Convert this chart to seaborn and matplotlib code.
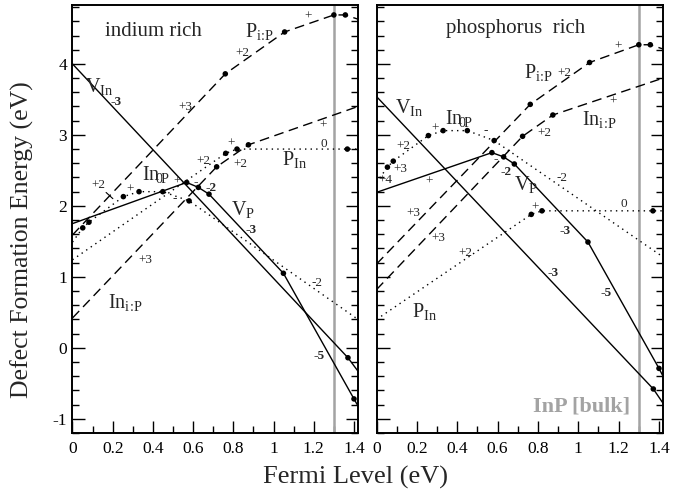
import numpy as np
import matplotlib
matplotlib.use("Agg")
import matplotlib.pyplot as plt
from matplotlib.ticker import MultipleLocator, FixedLocator
import seaborn as sns

# ---------------- data ----------------
# Indium rich panel: breakpoints of each formation-energy curve (x = Fermi level, y = energy)
vin_in_x = [0.0, 1.37, 1.42]
vin_in_y = [4.00, -0.14, -0.33]
vp_in_x = [0.0, 0.568, 0.626, 0.679, 1.049, 1.40, 1.42]
vp_in_y = [1.75, 2.33, 2.26, 2.165, 1.05, -0.72, -0.82]
inp_in_x = [0.0, 0.051, 0.082, 0.253, 0.331, 0.449, 0.58, 1.42]
inp_in_y = [1.49, 1.69, 1.77, 2.13, 2.20, 2.20, 2.07, 0.40]
pin_in_x = [0.0, 0.762, 0.818, 1.367, 1.42]
pin_in_y = [1.24, 2.74, 2.80, 2.80, 2.80]
ini_in_x = [0.0, 0.717, 0.875, 1.42]
ini_in_y = [0.42, 2.55, 2.86, 3.40]
pi_in_x = [0.0, 0.76, 1.055, 1.30, 1.357, 1.42]
pi_in_y = [1.59, 3.86, 4.45, 4.69, 4.69, 4.63]

# Phosphorus rich panel
vin_p_x = [0.0, 1.372, 1.42]
vin_p_y = [3.54, -0.58, -0.78]
vp_p_x = [0.0, 0.572, 0.63, 0.683, 1.048, 1.40, 1.42]
vp_p_y = [2.19, 2.75, 2.69, 2.59, 1.49, -0.29, -0.40]
inp_p_x = [0.0, 0.054, 0.083, 0.257, 0.33, 0.45, 0.583, 1.42]
inp_p_y = [2.33, 2.545, 2.63, 2.99, 3.06, 3.06, 2.92, 1.28]
pin_p_x = [0.0, 0.767, 0.82, 1.37, 1.42]
pin_p_y = [0.40, 1.88, 1.93, 1.93, 1.93]
ini_p_x = [0.0, 0.724, 0.874, 1.42]
ini_p_y = [0.82, 2.98, 3.28, 3.80]
pi_p_x = [0.0, 0.762, 1.056, 1.30, 1.357, 1.42]
pi_p_y = [1.18, 3.43, 4.02, 4.27, 4.27, 4.21]

band_gap = 1.30
panel_titles = ["indium rich", "phosphorus  rich"]
x_tick_labels = ["0", "0.2", "0.4", "0.6", "0.8", "1", "1.2", "1.4"]
y_tick_labels = ["-1", "0", "1", "2", "3", "4"]

# ---------------- style ----------------
sns.set_theme(style="ticks")
plt.rcParams["font.family"] = ["Liberation Serif", "DejaVu Serif"]
plt.rcParams["mathtext.fontset"] = "custom"
plt.rcParams["mathtext.rm"] = "Liberation Serif"
plt.rcParams["mathtext.it"] = "Liberation Serif:italic"
plt.rcParams["mathtext.bf"] = "Liberation Serif:bold"
plt.rcParams["axes.unicode_minus"] = False

SOLID = "-"
DASH = (0, (7, 4))
DOT = (0, (1, 3))

fig = plt.figure(figsize=(6.91, 4.95), dpi=100)
axL = fig.add_axes([0.1049, 0.1253, 0.5181 - 0.1049, 0.9899 - 0.1253])
axR = fig.add_axes([0.5449, 0.1253, 0.9595 - 0.5449, 0.9899 - 0.1253])

panels = {
    axL: [(vin_in_x, vin_in_y, SOLID), (vp_in_x, vp_in_y, SOLID),
          (inp_in_x, inp_in_y, DOT), (pin_in_x, pin_in_y, DOT),
          (ini_in_x, ini_in_y, DASH), (pi_in_x, pi_in_y, DASH)],
    axR: [(vin_p_x, vin_p_y, SOLID), (vp_p_x, vp_p_y, SOLID),
          (inp_p_x, inp_p_y, DOT), (pin_p_x, pin_p_y, DOT),
          (ini_p_x, ini_p_y, DASH), (pi_p_x, pi_p_y, DASH)],
}

for ax, curves in panels.items():
    ax.axvline(band_gap, color="#a3a3a3", lw=1.8, zorder=1)
    for xs, ys, ls in curves:
        sns.lineplot(x=xs, y=ys, ax=ax, color="black", lw=1.0, linestyle=ls,
                     sort=False, estimator=None, zorder=3)
        sns.scatterplot(x=xs[1:-1], y=ys[1:-1], ax=ax, color="black", s=16,
                        edgecolor="none", zorder=4)
    ax.set_xlim(0, 1.42)
    ax.set_ylim(-1.2, 4.83)
    ax.xaxis.set_major_locator(FixedLocator([0, 0.2, 0.4, 0.6, 0.8, 1.0, 1.2, 1.4]))
    ax.set_xticklabels(x_tick_labels)
    ax.xaxis.set_minor_locator(MultipleLocator(0.1))
    ax.yaxis.set_major_locator(FixedLocator([-1, 0, 1, 2, 3, 4]))
    ax.yaxis.set_minor_locator(MultipleLocator(0.2))
    ax.tick_params(which="both", direction="in", left=True, right=True, top=False,
                   bottom=True, color="black", width=1.0, labelsize=12.5,
                   labelcolor="black")
    ax.tick_params(which="major", length=9)
    ax.tick_params(which="minor", length=5)
    ax.tick_params(axis="x", pad=6)
    ax.tick_params(axis="y", pad=4)
    for s in ax.spines.values():
        s.set_color("black")
        s.set_linewidth(1.4)
    ax.set_xlabel("")
    ax.set_ylabel("")

axL.set_yticklabels(y_tick_labels)
axR.set_yticklabels([])

# ---------------- annotations ----------------
big = 14.5
small = 9.5
IP = r"{\rm i}\!:\!{\rm P}"
INP_LABEL = r"In$_{\!\!\rm 0\!P}$"  # antisite label with its neutral charge mark

def species(ax, x, y, txt):
    ax.text(x, y, txt, fontsize=big, ha="left", va="baseline", zorder=6)

def charge(ax, x, y, txt, bold=False):
    ax.text(x, y, txt, fontsize=small, ha="center", va="center", zorder=6,
            fontweight="bold" if bold else "normal")

axL.text(0.405, 4.46, panel_titles[0], fontsize=15, ha="center", va="center")
axR.text(0.687, 4.50, panel_titles[1], fontsize=15, ha="center", va="center")

# indium rich labels
species(axL, 0.062, 3.61, r"V$_{\rm In}$")
species(axL, 0.86, 4.38, r"P$_{" + IP + "}$")
species(axL, 0.344, 2.37, INP_LABEL)
species(axL, 1.04, 2.57, r"P$_{\rm In}$")
species(axL, 0.79, 1.87, r"V$_{\rm P}$")
species(axL, 0.178, 0.56, r"In$_{" + IP + "}$")
for x, y, t, b in [(0.215, 3.47, "-3", True), (0.56, 3.39, "+3", False),
                   (0.847, 4.16, "+2", False), (1.173, 4.67, "+", False),
                   (1.248, 3.13, "+", False), (1.248, 2.87, "0", False),
                   (0.833, 2.59, "+2", False), (0.65, 2.63, "+2", False),
                   (0.787, 2.87, "+", False),
                   (0.128, 2.30, "+2", False), (0.286, 2.23, "+", False),
                   (0.52, 2.34, "+", False), (0.51, 2.09, "-", False),
                   (0.615, 2.33, "-", True), (0.69, 2.25, "-2", True),
                   (0.89, 1.66, "-3", True), (0.36, 1.24, "+3", False),
                   (1.215, 0.91, "-2", False), (1.228, -0.11, "-5", True)]:
    charge(axL, x, y, t, b)
axL.annotate("", xy=(0.211, 2.075), xytext=(0.157, 2.215),
             arrowprops=dict(arrowstyle="-", color="black", lw=0.8))

# phosphorus rich labels
species(axR, 0.732, 3.80, r"P$_{" + IP + "}$")
species(axR, 0.092, 3.31, r"V$_{\rm In}$")
species(axR, 0.34, 3.16, INP_LABEL)
species(axR, 1.018, 3.14, r"In$_{" + IP + "}$")
species(axR, 0.68, 2.23, r"V$_{\rm P}$")
species(axR, 0.175, 0.44, r"P$_{\rm In}$")
for x, y, t, b in [(0.93, 3.87, "+2", False), (1.195, 4.24, "+", False),
                   (0.29, 3.09, "+", False),
                   (0.54, 3.05, "-", False), (0.133, 2.84, "+2", False),
                   (0.117, 2.52, "+3", False), (0.042, 2.37, "+4", False),
                   (0.26, 2.34, "+", False), (0.59, 2.66, "-", True),
                   (0.64, 2.48, "-2", True), (0.92, 2.39, "-2", False),
                   (1.17, 3.47, "+", False), (0.83, 3.02, "+2", False),
                   (0.183, 1.90, "+3", False), (0.307, 1.55, "+3", False),
                   (0.787, 1.98, "+", False), (1.225, 2.03, "0", False),
                   (0.44, 1.33, "+2", False), (0.935, 1.64, "-3", True),
                   (0.877, 1.05, "-3", True), (1.14, 0.77, "-5", True)]:
    charge(axR, x, y, t, b)

axR.text(1.014, -0.83, "InP [bulk]", fontsize=16, fontweight="bold",
         color="#a3a3a3", ha="center", va="center")

fig.text(0.032, 0.515, "Defect Formation Energy (eV)", rotation=90,
         fontsize=18.5, ha="center", va="center")
fig.text(0.514, 0.035, "Fermi Level (eV)", fontsize=19, ha="center", va="center")

fig.savefig("out.png", dpi=100)
